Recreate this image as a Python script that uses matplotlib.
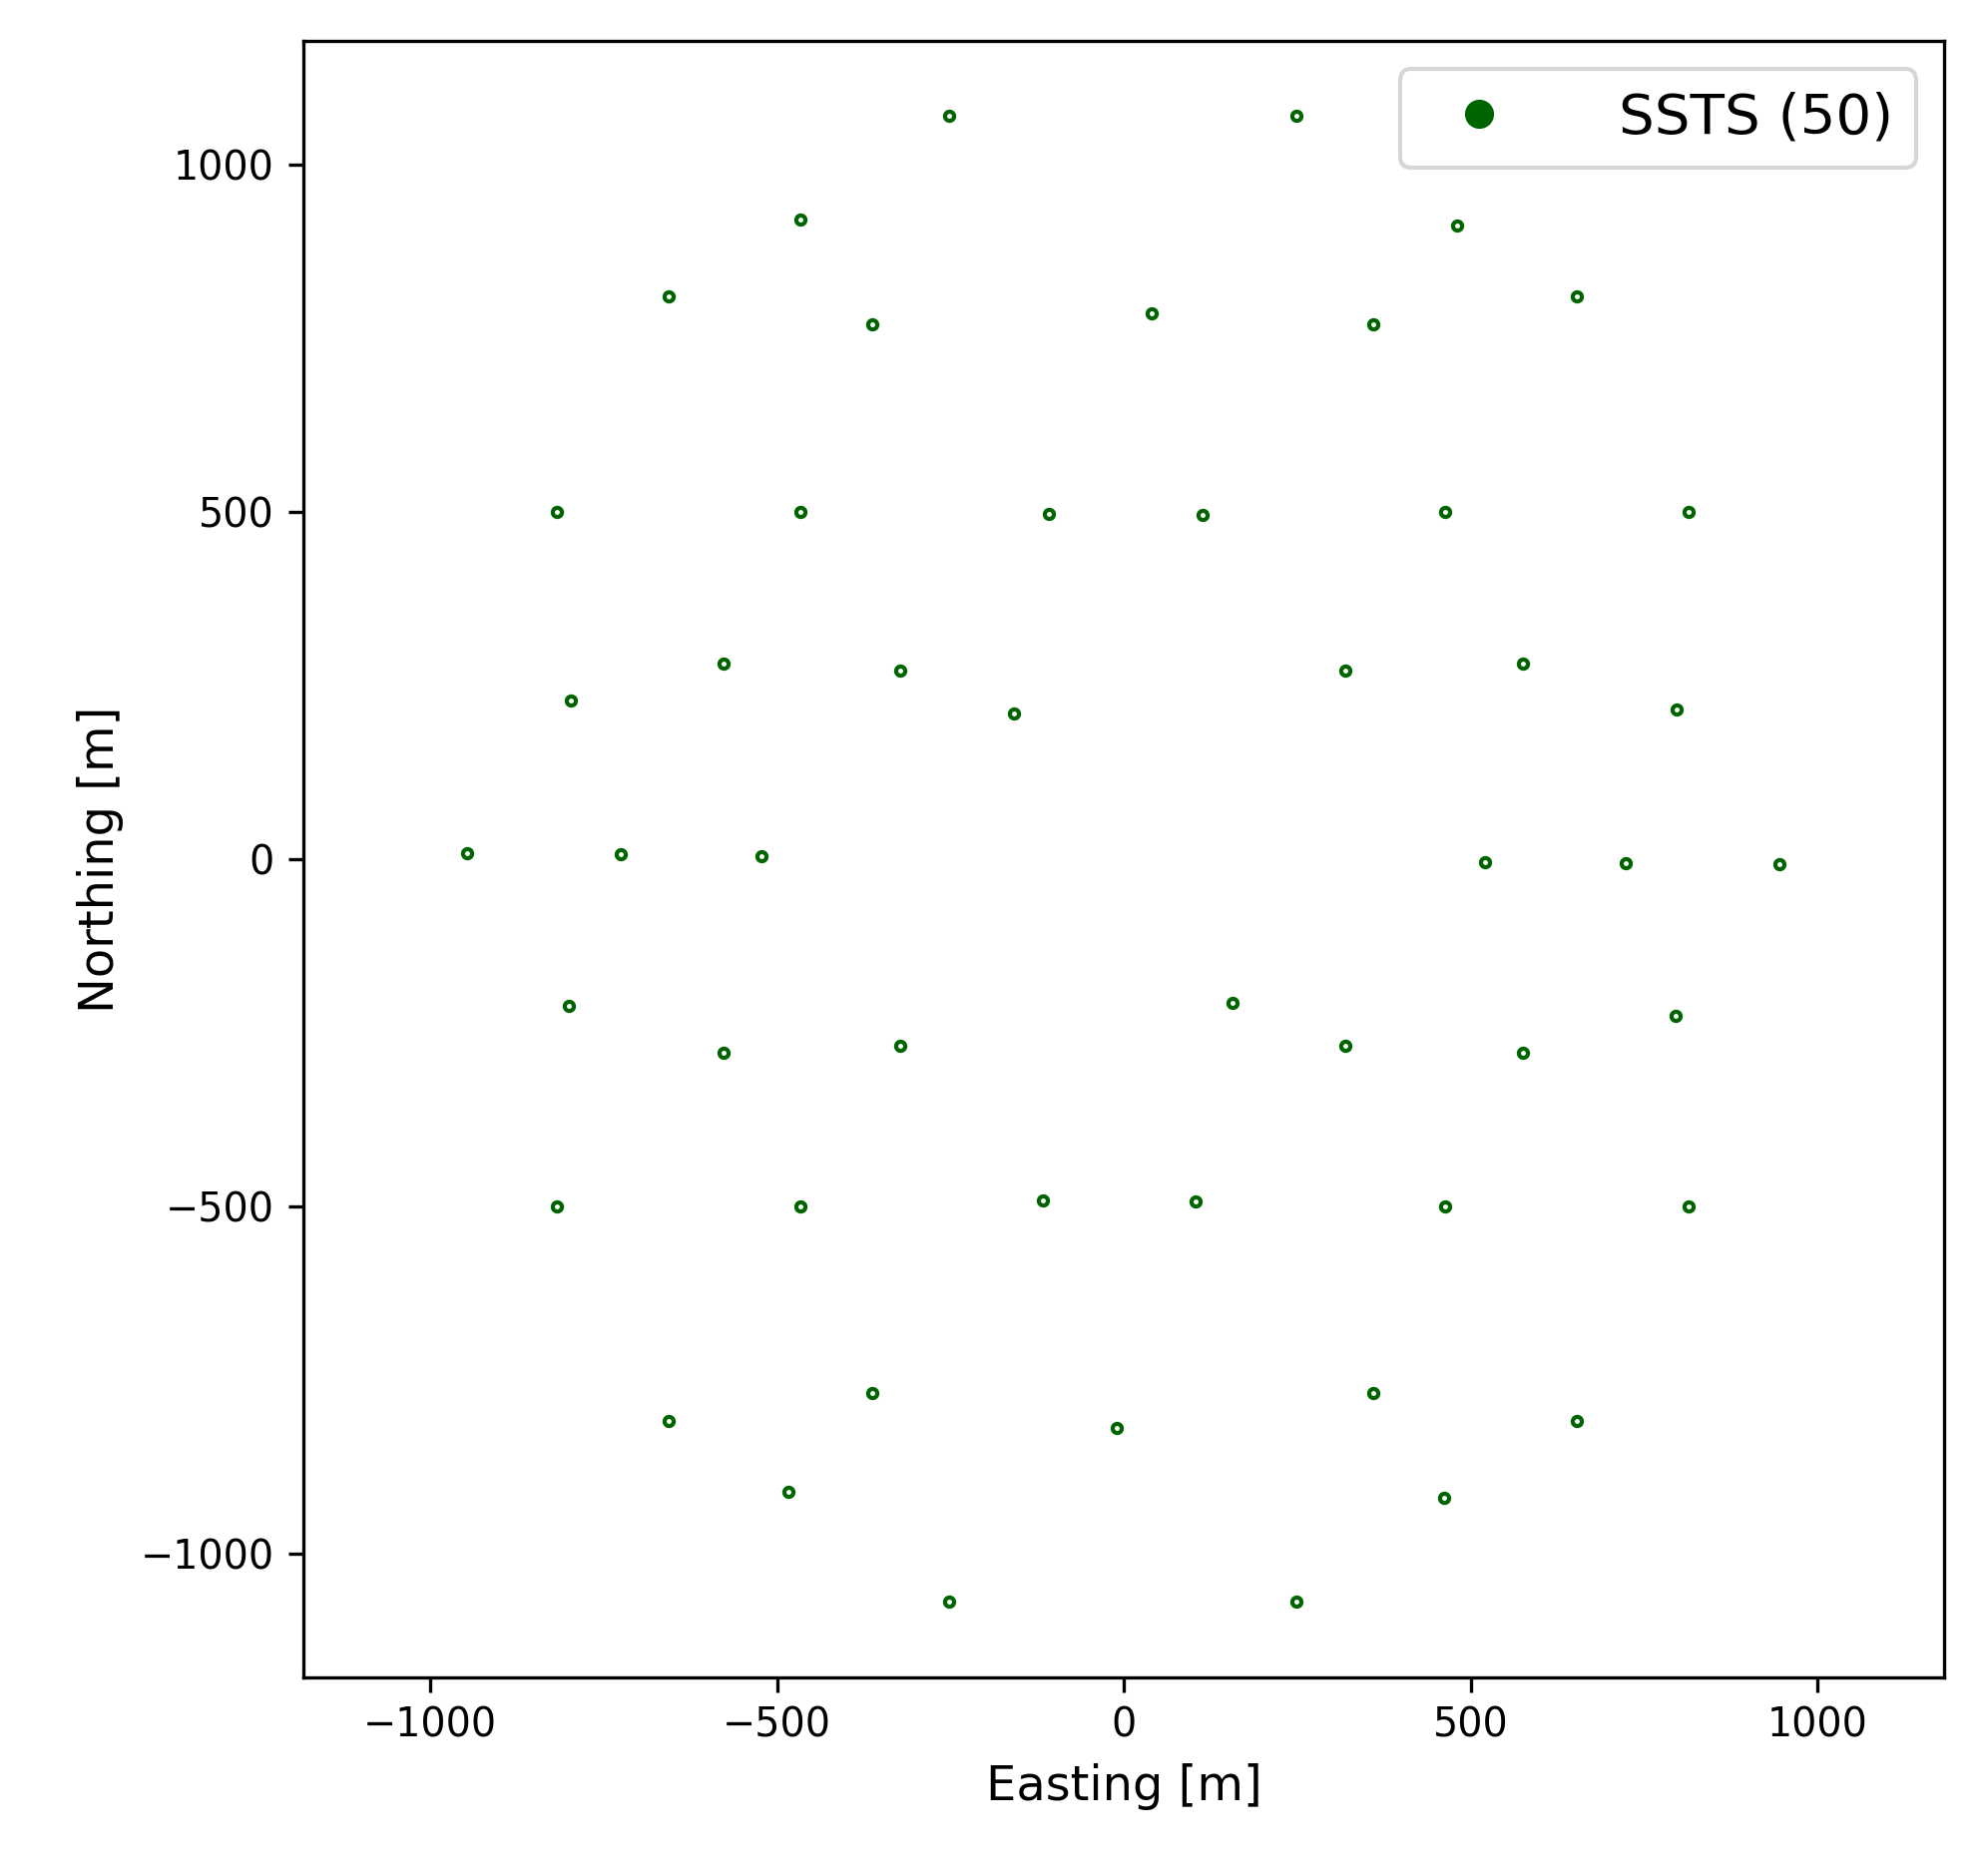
import matplotlib
matplotlib.use("Agg")
import matplotlib.pyplot as plt
from matplotlib.lines import Line2D

easting = [-252, 248, -467, 480, -657, 653, -363, 359, 40, -818, -467, -108, 113, 463, 814,
           -578, -323, 319, 575, -797, -159, 797, -947, -726, -522, 520, 724, 945,
           -801, 157, 796, -578, -323, 319, 575, -818, -467, -117, 104, 463, 814,
           -657, -363, 359, 653, -11, -484, 462, -252, 248]
northing = [1070, 1070, 921, 912, 810, 810, 770, 770, 786, 500, 500, 497, 495, 500, 500,
            282, 271, 271, 282, 229, 209, 215, 9, 7, 5, -4, -5, -7,
            -211, -206, -226, -278, -268, -268, -278, -499, -499, -491, -493, -499, -499,
            -808, -768, -768, -808, -819, -910, -919, -1068, -1068]
label = "SSTS (50)"

fig = plt.figure(figsize=(1988/300, 1880/300), dpi=300)
ax = fig.add_axes([0.153, 0.106, 0.827, 0.872])
ax.plot(easting, northing, 'o', ms=2.2, mfc='white', mec='darkgreen', mew=1.0, ls='none')
ax.set_xlim(-1183, 1183)
ax.set_ylim(-1177, 1177)
ax.set_xticks([-1000, -500, 0, 500, 1000])
ax.set_yticks([-1000, -500, 0, 500, 1000])
ax.tick_params(labelsize=9.5)
ax.set_xlabel("Easting [m]", fontsize=11.5)
ax.set_ylabel("Northing [m]", fontsize=11.5)
h = Line2D([], [], marker='o', ls='none', color='darkgreen', ms=6)
ax.legend([h], [label], loc='upper right', fontsize=13.5, handletextpad=1.5)
fig.savefig("out.png", dpi=300)
